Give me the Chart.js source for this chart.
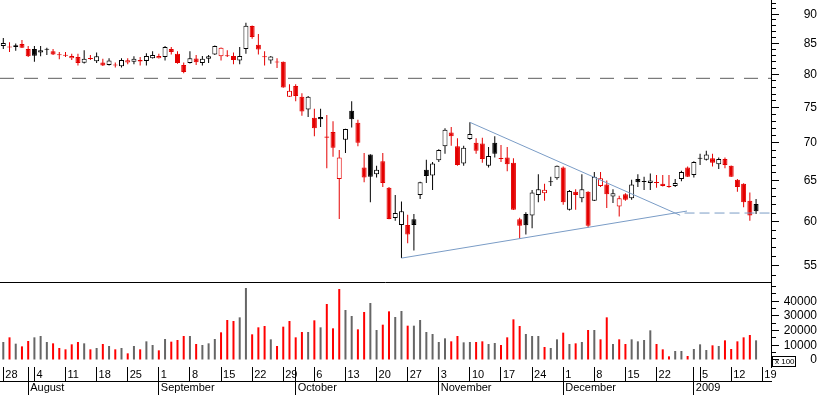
<!DOCTYPE html>
<html>
<head>
<meta charset="utf-8">
<script src="https://cdn.jsdelivr.net/npm/chart.js@4.4.1/dist/chart.umd.min.js"></script>
<style>
  html, body { margin: 0; padding: 0; background: #fff; }
  #wrap { width: 817px; height: 395px; }
</style>
</head>
<body>
<div id="wrap"><canvas id="chart"></canvas></div>
<script>
// daily candles, 28 Jul 2008 .. 16 Jan 2009 (trading days only)
const openPrices = [
  84.6, 84.45, 84.4, 84.9, 84.1, 84.1, 83.5, 84.1, 83.7, 83.15,
  83.05, 82.6, 82.8, 81.85, 82.6, 82.1, 81.9, 81.5, 81.45, 81.3,
  81.9, 82.0, 82.3, 82.15, 82.6, 82.6, 82.8, 84.1, 83.3, 81.5,
  81.8, 82.55, 81.8, 82.5, 83.2, 82.9, 82.95, 82.95, 82.2, 84.1,
  87.95, 84.8, 82.8, 82.2, 81.95, 82.0, 76.6, 78.2, 76.6, 74.7,
  73.5, 73.6, 70.85, 71.5, 65.2, 70.4, 74.5, 72.8, 66.7, 68.4,
  65.8, 67.5, 64.1, 60.4, 59.6, 59.6, 60.25, 63.2, 66.4, 65.65,
  67.65, 69.5, 71.4, 69.5, 67.2, 70.5, 70.0, 69.9, 66.9, 70.0,
  67.85, 68.0, 67.3, 60.25, 60.9, 60.7, 63.2, 63.4, 64.8, 65.3,
  66.7, 61.4, 63.6, 62.8, 63.6, 62.5, 64.3, 64.5, 63.0, 61.8,
  63.3, 62.8, 65.2, 64.82, 64.7, 64.75, 64.6, 64.25, 64.3, 65.2,
  66.7, 65.7, 67.85, 67.7, 67.9, 67.1, 67.8, 66.9, 65.1, 64.6,
  62.5, 62.1
];
const highPrices = [
  85.9, 85.2, 85.0, 85.6, 84.6, 84.6, 84.6, 84.3, 84.1, 83.6,
  83.6, 83.3, 83.3, 83.9, 83.1, 83.5, 82.5, 82.6, 81.9, 82.6,
  82.6, 82.9, 82.8, 83.4, 83.7, 83.3, 84.6, 84.4, 83.7, 81.9,
  83.7, 83.1, 82.95, 83.1, 84.65, 84.35, 83.9, 83.5, 84.4, 88.5,
  88.05, 86.6, 83.7, 82.95, 82.6, 82.05, 78.5, 78.5, 77.1, 76.7,
  74.8, 74.8, 73.9, 73.0, 69.0, 71.95, 75.9, 73.2, 68.6, 68.45,
  66.9, 68.6, 64.2, 63.2, 62.4, 60.8, 60.9, 64.85, 67.7, 67.4,
  69.1, 72.0, 72.2, 70.6, 69.6, 72.85, 70.6, 70.7, 69.4, 70.9,
  69.7, 69.4, 67.9, 60.45, 61.1, 63.8, 65.8, 64.6, 65.5, 66.95,
  66.8, 63.8, 63.9, 65.8, 63.65, 66.1, 66.1, 65.0, 63.9, 63.1,
  63.4, 65.1, 65.8, 65.5, 65.9, 65.7, 65.7, 65.7, 65.2, 66.25,
  66.8, 67.5, 68.5, 68.9, 68.5, 68.0, 68.0, 66.95, 65.2, 64.65,
  63.5, 62.7
];
const lowPrices = [
  84.1, 83.6, 83.8, 84.25, 82.8, 82.0, 82.9, 83.1, 83.1, 82.4,
  82.8, 82.3, 81.4, 81.75, 82.3, 81.8, 81.35, 81.4, 81.1, 81.1,
  81.6, 81.6, 81.4, 81.4, 82.55, 82.55, 82.2, 83.2, 81.7, 80.2,
  81.75, 81.5, 81.4, 81.8, 83.1, 82.2, 82.8, 81.6, 81.6, 83.3,
  85.8, 83.2, 81.4, 81.7, 81.0, 77.95, 76.55, 75.9, 73.8, 73.6,
  70.9, 72.2, 66.6, 68.1, 60.3, 68.6, 72.1, 69.5, 64.8, 62.3,
  65.4, 64.2, 60.25, 60.1, 55.85, 57.5, 56.7, 62.7, 64.7, 63.8,
  67.4, 68.5, 69.6, 66.9, 66.9, 70.4, 68.5, 67.3, 66.7, 68.0,
  67.4, 66.2, 61.35, 58.0, 58.5, 59.2, 62.3, 62.5, 64.3, 65.1,
  62.0, 61.3, 61.4, 62.3, 59.3, 62.45, 64.2, 61.6, 62.2, 60.6,
  62.5, 62.6, 64.2, 63.8, 63.8, 64.1, 64.25, 64.1, 64.2, 64.9,
  65.45, 65.4, 67.0, 67.6, 66.8, 66.5, 66.6, 65.45, 63.6, 61.7,
  60.1, 60.9
];
const closePrices = [
  85.1, 84.35, 84.7, 84.3, 82.9, 83.0, 83.9, 83.95, 83.2, 83.05,
  83.0, 82.95, 81.8, 82.5, 82.45, 82.9, 81.4, 82.2, 81.4, 82.3,
  82.25, 82.5, 82.05, 82.95, 83.1, 82.95, 84.4, 83.6, 81.8, 80.4,
  82.6, 81.95, 82.5, 82.9, 84.6, 84.3, 82.9, 82.3, 82.95, 88.0,
  86.1, 84.0, 82.75, 82.85, 81.9, 78.0, 77.5, 76.7, 74.4, 76.6,
  72.0, 73.3, 70.7, 69.3, 68.0, 71.9, 73.3, 70.0, 65.4, 65.5,
  66.4, 64.7, 60.3, 61.0, 61.2, 58.5, 59.6, 64.8, 65.6, 67.2,
  69.0, 71.8, 70.9, 67.0, 69.3, 71.2, 68.9, 67.8, 68.2, 68.5,
  67.8, 67.1, 61.4, 59.5, 59.55, 63.5, 63.9, 63.85, 64.85, 66.9,
  62.3, 63.7, 63.2, 63.9, 59.5, 65.5, 65.3, 63.3, 63.4, 62.8,
  62.6, 64.5, 64.8, 64.85, 65.0, 64.7, 64.3, 64.2, 64.7, 66.1,
  65.5, 67.4, 67.9, 68.4, 67.3, 67.8, 67.0, 65.5, 64.2, 62.3,
  60.7, 61.2
];
const volumes = [
  12270, 15450, 11130, 9300, 12950, 15450, 16360, 12270, 11360, 8180,
  7270, 10680, 12270, 11360, 7270, 8180, 10900, 9540, 7270, 8180,
  4540, 9540, 7270, 12720, 10220, 6590, 14310, 12500, 13630, 16360,
  16360, 10900, 10220, 11360, 14310, 18860, 27270, 26580, 29080, 49080,
  17500, 22270, 23180, 14090, 9540, 22720, 26580, 15450, 19090, 19090,
  27040, 22270, 38170, 21590, 48390, 34080, 29990, 20900, 32720, 38850,
  20450, 24080, 33170, 29310, 33400, 23400, 23400, 27260, 19090, 17720,
  12270, 14770, 12720, 16360, 12040, 12270, 12270, 12720, 10900, 11590,
  10220, 15450, 27720, 23170, 17720, 16360, 16360, 8860, 8180, 14090,
  18630, 10900, 11360, 12270, 20450, 20450, 14090, 29080, 10900, 14090,
  10900, 14090, 12720, 13630, 20220, 10900, 7270, 2500, 6130, 6130,
  2730, 7500, 10680, 6820, 10000, 9540, 13400, 7500, 12720, 15450,
  17040, 13400
];

// date axis (positions are trading-day indices)
const dayTicks = [0, 5, 10, 15, 20, 25, 30, 35, 40, 45, 50, 55, 60, 65, 70, 75, 80, 85, 90, 95, 100, 105, 112, 117, 122];
const dayLabels = ['28', '4', '11', '18', '25', '1', '8', '15', '22', '29', '6', '13', '20', '27', '3', '10', '17', '24', '1', '8', '15', '22', '5', '12', '19'];
const monthTicks = [4, 25, 47, 70, 90, 111];
const monthLabels = ['August', 'September', 'October', 'November', 'December', '2009'];

const priceTicks = [55, 60, 65, 70, 75, 80, 85, 90];
const volumeTicks = [0, 10000, 20000, 30000, 40000];

// drawn lines
const supportLevel = 79.4;
const upperTrend = [[75, 72.85], [108.8, 60.73]];
const lowerTrend = [[64, 55.85], [109.9, 61.24]];
const breakLine = [[109.5, 61.0], [123.4, 61.0]];

const X_MIN = -0.53, X_MAX = 123.4;
const P_MIN = 53.30, P_MAX = 92.55;
const V_MIN = -4772, V_MAX = 53170;

const RED = '#e40000', BLACK = '#000000';
const candleColor = closePrices.map((c, i) => (i === 0 || c >= closePrices[i - 1]) ? BLACK : RED);
const bodyFill = closePrices.map((c, i) => c > openPrices[i] ? '#ffffff' : candleColor[i]);
const volColor = candleColor.map(c => c === RED ? '#ff0000' : '#666666');

Chart.defaults.font.family = '"Liberation Sans", Arial, sans-serif';
Chart.defaults.color = '#000';

const toPts = arr => arr.map(p => ({ x: p[0], y: p[1] }));

const volumeBox = {
  id: 'volumeBox',
  afterDraw(chart) {
    const s = chart.scales.v;
    const y0 = s.getPixelForValue(0);
    const ctx = chart.ctx;
    ctx.save();
    ctx.strokeStyle = '#000';
    ctx.lineWidth = 1;
    ctx.strokeRect(Math.round(s.left) + 1.5, Math.round(y0) - 3.5, 23, 10);
    ctx.fillStyle = '#000';
    ctx.font = '8px "Liberation Sans", Arial, sans-serif';
    ctx.textBaseline = 'middle';
    ctx.fillText('x 100', s.left + 4, y0 + 1.5);
    ctx.restore();
  }
};

new Chart(document.getElementById('chart'), {
  type: 'bar',
  data: {
    datasets: [
      {
        label: 'support', type: 'line', xAxisID: 'x', yAxisID: 'y', order: 0,
        data: [{ x: X_MIN, y: supportLevel }, { x: X_MAX, y: supportLevel }],
        borderColor: '#5e5e5e', borderWidth: 1, borderDash: [14, 10], pointRadius: 0
      },
      {
        label: 'upper', type: 'line', xAxisID: 'x', yAxisID: 'y', order: 0,
        data: toPts(upperTrend), borderColor: '#7a9cc6', borderWidth: 1, pointRadius: 0
      },
      {
        label: 'lower', type: 'line', xAxisID: 'x', yAxisID: 'y', order: 0,
        data: toPts(lowerTrend), borderColor: '#7a9cc6', borderWidth: 1, pointRadius: 0
      },
      {
        label: 'break', type: 'line', xAxisID: 'x', yAxisID: 'y', order: 0,
        data: toPts(breakLine), borderColor: '#7a9cc6', borderWidth: 1, borderDash: [10, 5], pointRadius: 0
      },
      {
        label: 'body', xAxisID: 'x', yAxisID: 'y', order: 1,
        data: openPrices.map((o, i) => ({ x: i, y: [o, closePrices[i]] })),
        backgroundColor: bodyFill, borderColor: candleColor, borderWidth: 1,
        borderSkipped: false, barThickness: 5, minBarLength: 1, grouped: false, inflateAmount: 0
      },
      {
        label: 'wick', xAxisID: 'x', yAxisID: 'y', order: 2,
        data: lowPrices.map((l, i) => ({ x: i, y: [l, highPrices[i]] })),
        backgroundColor: candleColor, borderWidth: 0,
        barThickness: 1, grouped: false, inflateAmount: 0
      },
      {
        label: 'volume', xAxisID: 'x', yAxisID: 'v', order: 3,
        data: volumes.map((v, i) => ({ x: i, y: v })),
        backgroundColor: volColor, borderWidth: 0,
        barThickness: 2, grouped: false, inflateAmount: 0
      }
    ]
  },
  options: {
    responsive: true,
    maintainAspectRatio: false,
    animation: false,
    events: [],
    layout: { padding: 0 },
    plugins: { legend: { display: false }, tooltip: { enabled: false } },
    scales: {
      x: {
        type: 'linear', position: 'bottom', weight: 0, bounds: 'data',
        min: X_MIN, max: X_MAX, offset: false,
        afterBuildTicks: s => {
          const all = dayTicks.concat(monthTicks.filter(m => !dayTicks.includes(m))).sort((a, b) => a - b);
          s.ticks = all.map(v => ({ value: v }));
        },
        afterFit: s => { s.height = 14; s.paddingLeft = 0; s.paddingRight = 0; },
        grid: { drawOnChartArea: false, offset: false, tickLength: 14, tickColor: '#000', tickWidth: 1 },
        border: { display: false },
        ticks: {
          autoSkip: false, maxRotation: 0, minRotation: 0, align: 'start',
          labelOffset: 2, padding: -13, font: { size: 11 },
          callback: v => { const k = dayTicks.indexOf(v); return k < 0 ? '' : dayLabels[k]; }
        }
      },
      x2: {
        type: 'linear', position: 'bottom', weight: 1, bounds: 'data',
        min: X_MIN, max: X_MAX, offset: false,
        afterBuildTicks: s => { s.ticks = monthTicks.map(v => ({ value: v })); },
        afterFit: s => { s.height = 14; s.paddingLeft = 0; s.paddingRight = 0; },
        grid: { drawOnChartArea: false, offset: false, tickLength: 14, tickColor: '#000', tickWidth: 1 },
        border: { display: true, color: '#000', width: 1 },
        ticks: {
          autoSkip: false, maxRotation: 0, minRotation: 0, align: 'start',
          labelOffset: 2, padding: -14, font: { size: 11 },
          callback: v => { const k = monthTicks.indexOf(v); return k < 0 ? '' : monthLabels[k]; }
        }
      },
      y: {
        type: 'logarithmic', position: 'right', stack: 'right', stackWeight: 282, weight: 0,
        bounds: 'data', min: P_MIN, max: P_MAX,
        afterBuildTicks: s => {
          const t = [];
          for (let v = 54; v <= 92; v++) t.push({ value: v });
          s.ticks = t;
        },
        afterFit: s => { s.width = 46; s.paddingTop = 0; s.paddingBottom = 0; },
        grid: {
          drawOnChartArea: false, tickLength: 8, tickColor: '#000', tickWidth: 1,
          tickBorderDash: ctx => (ctx.tick && priceTicks.includes(ctx.tick.value)) ? [] : [4, 20]
        },
        border: { display: true, color: '#000', width: 1 },
        ticks: {
          autoSkip: false, crossAlign: 'far', padding: 21, font: { size: 12 },
          callback: v => priceTicks.includes(v) ? String(v) : ''
        }
      },
      v: {
        type: 'linear', position: 'right', stack: 'right', stackWeight: 85, weight: 1,
        bounds: 'data', min: V_MIN, max: V_MAX,
        afterBuildTicks: s => {
          const t = [];
          for (let v = 0; v <= 50000; v += 5000) t.push({ value: v });
          t.push({ value: V_MAX });
          s.ticks = t;
        },
        afterFit: s => { s.width = 46; s.paddingTop = 0; s.paddingBottom = 0; },
        grid: {
          drawOnChartArea: true, tickLength: 8, tickWidth: 1,
          color: ctx => (ctx.tick && ctx.tick.value === V_MAX) ? '#000' : 'rgba(0,0,0,0)',
          tickColor: ctx => (ctx.tick && ctx.tick.value === V_MAX) ? 'rgba(0,0,0,0)' : '#000',
          tickBorderDash: ctx => (ctx.tick && volumeTicks.includes(ctx.tick.value)) ? [] : [4, 20]
        },
        border: { display: true, color: '#000', width: 1 },
        ticks: {
          autoSkip: false, crossAlign: 'far', padding: 2, font: { size: 12 },
          callback: v => volumeTicks.includes(v) ? String(v) : ''
        }
      }
    }
  },
  plugins: [volumeBox]
});
</script>
</body>
</html>
